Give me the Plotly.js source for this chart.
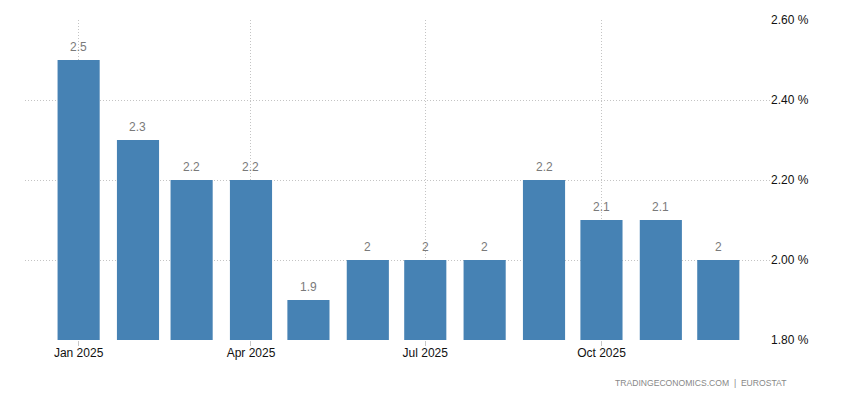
<!DOCTYPE html>
<html>
<head>
<meta charset="utf-8">
<script src="https://cdn.plot.ly/plotly-3.0.1.min.js"></script>
<style>
html,body{margin:0;padding:0;background:#fff;}
#chart{width:850px;height:400px;}
</style>
</head>
<body>
<div id="chart"></div>
<script>
var months = ['2025-01-01','2025-02-01','2025-03-01','2025-04-01','2025-05-01','2025-06-01',
              '2025-07-01','2025-08-01','2025-09-01','2025-10-01','2025-11-01','2025-12-01'];
var values = [2.5, 2.3, 2.2, 2.2, 1.9, 2.0, 2.0, 2.0, 2.2, 2.1, 2.1, 2.0];
var xTickVals = ['2025-01-01','2025-04-01','2025-07-01','2025-10-01'];
var xTickText = ['Jan 2025','Apr 2025','Jul 2025','Oct 2025'];
var yTickVals = [1.8, 2.0, 2.2, 2.4, 2.6];
var yTickText = ['1.80 %','2.00 %','2.20 %','2.40 %','2.60 %'];
var source = 'TRADINGECONOMICS.COM  |  EUROSTAT';

var DAY = 86400000;

var trace = {
  type: 'bar',
  x: months,
  y: values,
  width: months.map(function(){ return 22 * DAY; }),
  marker: {color: '#4682B4'},
  hoverinfo: 'x+y'
};

var annotations = months.map(function(m, i){
  return {
    x: m, y: values[i], xref: 'x', yref: 'y',
    text: String(values[i]),
    showarrow: false, yanchor: 'bottom', yshift: 4,
    font: {family: 'Liberation Sans, Arial, sans-serif', size: 12, color: '#7a7a7a'}
  };
});
annotations.push({
  xref: 'paper', yref: 'paper', x: 1.025, y: -0.134,
  xanchor: 'right', yanchor: 'middle', showarrow: false,
  text: source,
  font: {family: 'Liberation Sans, Arial, sans-serif', size: 8.6, color: '#888888'}
});

var layout = {
  width: 850, height: 400,
  margin: {l: 25, r: 80, t: 20, b: 60},
  paper_bgcolor: '#ffffff', plot_bgcolor: '#ffffff',
  showlegend: false,
  xaxis: {
    type: 'date',
    range: ['2024-12-04', '2025-12-28'],
    tickvals: xTickVals, ticktext: xTickText,
    ticks: 'outside', ticklen: 5, tickcolor: '#c8c8c8', tickwidth: 1,
    ticklabelstandoff: -3,
    showgrid: true, gridcolor: '#c4c4c4', griddash: '1px,2px', gridwidth: 1,
    zeroline: false, showline: false,
    tickfont: {family: 'Liberation Sans, Arial, sans-serif', size: 12, color: '#111111'}
  },
  yaxis: {
    side: 'right',
    range: [1.8, 2.6],
    tickvals: yTickVals, ticktext: yTickText,
    ticks: '', showgrid: true, gridcolor: '#c4c4c4', griddash: '1px,2px', gridwidth: 1,
    zeroline: false, showline: false,
    tickfont: {family: 'Liberation Sans, Arial, sans-serif', size: 12, color: '#111111'}
  },
  annotations: annotations
};

Plotly.newPlot('chart', [trace], layout, {displayModeBar: false, staticPlot: true});
</script>
</body>
</html>
